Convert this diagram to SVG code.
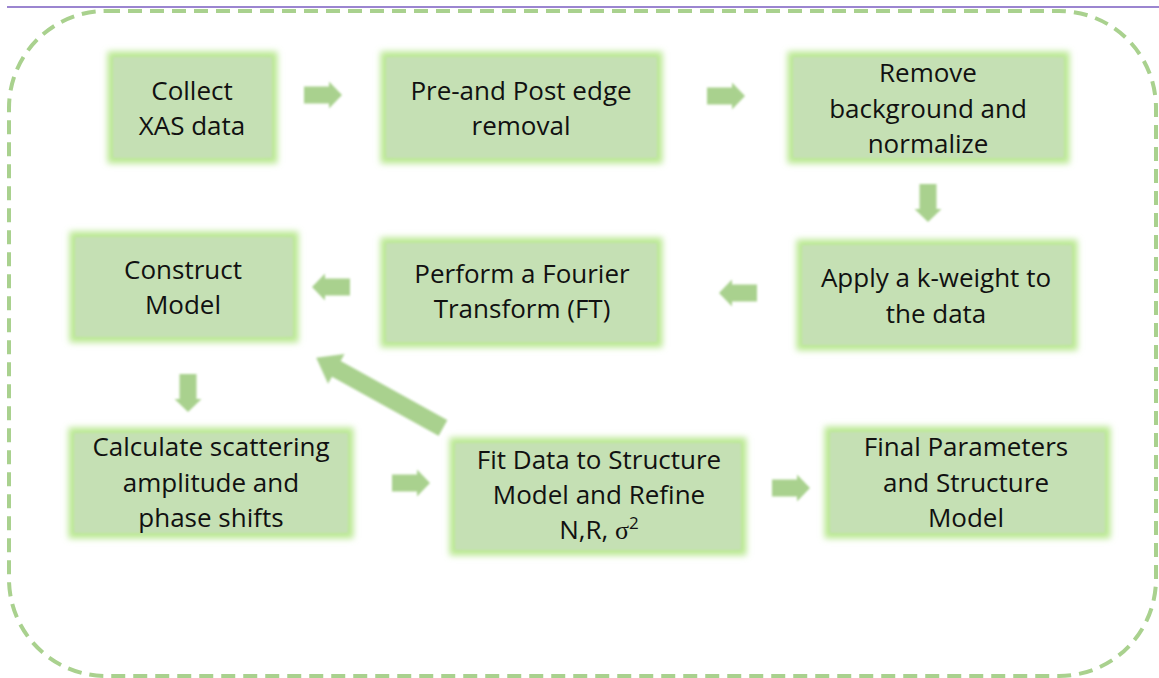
<svg xmlns="http://www.w3.org/2000/svg" width="1159" height="678" viewBox="0 0 1159 678">
  <defs>
    <style>
      .glow { fill: none; stroke: #b9e891; stroke-width: 11; filter: url(#halo); }
      .box { fill: #c5e0b4; filter: url(#soft); }
      .lbl { font-family: "Open Sans", "Liberation Sans", sans-serif; font-size: 26px; fill: #111111; text-anchor: middle; }
      .arrow { fill: #a9d18e; filter: url(#edge); }
    </style>
    <filter id="halo" x="-15%" y="-25%" width="130%" height="150%">
      <feGaussianBlur stdDeviation="3.2"/>
    </filter>
    <filter id="soft" x="-5%" y="-10%" width="110%" height="120%">
      <feGaussianBlur stdDeviation="1"/>
    </filter>
    <filter id="edge" x="-20%" y="-20%" width="140%" height="140%">
      <feGaussianBlur stdDeviation="0.8"/>
    </filter>
    <!-- block arrow pointing right, tail at origin -->
    <path id="blk" d="M0,-8.5 H25 V-13.5 L38,0 L25,13.5 V8.5 H0 Z"/>
  </defs>

  <!-- header rule -->
  <line x1="7" y1="7" x2="1159" y2="7" stroke="#7a5cc0" stroke-width="1.5"/>

  <!-- dashed frame -->
  <rect x="9" y="11" width="1147" height="665" rx="97" ry="97" fill="none" stroke="#a9d18e" stroke-width="4" stroke-dasharray="14 8"/>

  <g id="n1">
    <rect class="glow" x="113" y="57" width="159" height="101"/>
    <rect class="box" x="113" y="57" width="159" height="101"/>
    <text class="lbl" x="192" y="100">Collect</text>
    <text class="lbl" x="192" y="135">XAS data</text>
  </g>
  <g id="n2">
    <rect class="glow" x="386" y="57" width="271" height="101"/>
    <rect class="box" x="386" y="57" width="271" height="101"/>
    <text class="lbl" x="521" y="100">Pre-and Post edge</text>
    <text class="lbl" x="521" y="135">removal</text>
  </g>
  <g id="n3">
    <rect class="glow" x="793" y="57" width="271" height="101"/>
    <rect class="box" x="793" y="57" width="271" height="101"/>
    <text class="lbl" x="928" y="82">Remove</text>
    <text class="lbl" x="928" y="118">background and</text>
    <text class="lbl" x="928" y="153">normalize</text>
  </g>
  <g id="n4">
    <rect class="glow" x="802" y="245" width="270" height="100"/>
    <rect class="box" x="802" y="245" width="270" height="100"/>
    <text class="lbl" x="936" y="287">Apply a k-weight to</text>
    <text class="lbl" x="936" y="323">the data</text>
  </g>
  <g id="n5">
    <rect class="glow" x="386" y="243" width="271" height="99"/>
    <rect class="box" x="386" y="243" width="271" height="99"/>
    <text class="lbl" x="522" y="283">Perform a Fourier</text>
    <text class="lbl" x="522" y="318">Transform (FT)</text>
  </g>
  <g id="n6">
    <rect class="glow" x="75" y="237" width="218" height="100"/>
    <rect class="box" x="75" y="237" width="218" height="100"/>
    <text class="lbl" x="183" y="279">Construct</text>
    <text class="lbl" x="183" y="314">Model</text>
  </g>
  <g id="n7">
    <rect class="glow" x="74" y="433" width="274" height="100"/>
    <rect class="box" x="74" y="433" width="274" height="100"/>
    <text class="lbl" x="211" y="456">Calculate scattering</text>
    <text class="lbl" x="211" y="492">amplitude and</text>
    <text class="lbl" x="211" y="527">phase shifts</text>
  </g>
  <g id="n8">
    <rect class="glow" x="455" y="443" width="286" height="107"/>
    <rect class="box" x="455" y="443" width="286" height="107"/>
    <text class="lbl" x="599" y="469">Fit Data to Structure</text>
    <text class="lbl" x="599" y="504">Model and Refine</text>
    <text class="lbl" x="599" y="539">N,R, <tspan font-family="Liberation Serif, serif">σ</tspan><tspan font-size="17" dy="-10">2</tspan></text>
  </g>
  <g id="n9">
    <rect class="glow" x="830" y="432" width="275" height="101"/>
    <rect class="box" x="830" y="432" width="275" height="101"/>
    <text class="lbl" x="966" y="456">Final Parameters</text>
    <text class="lbl" x="966" y="492">and Structure</text>
    <text class="lbl" x="966" y="527">Model</text>
  </g>

  <g id="connectors">
    <use href="#blk" class="arrow" transform="translate(304,95)"/>
    <use href="#blk" class="arrow" transform="translate(707,96)"/>
    <use href="#blk" class="arrow" transform="translate(928,184) rotate(90)"/>
    <use href="#blk" class="arrow" transform="translate(757,293) rotate(180)"/>
    <use href="#blk" class="arrow" transform="translate(350,287) rotate(180)"/>
    <use href="#blk" class="arrow" transform="translate(188,374) rotate(90)"/>
    <use href="#blk" class="arrow" transform="translate(392,483)"/>
    <use href="#blk" class="arrow" transform="translate(772,488)"/>
    <path class="arrow" d="M0,-9 H122 V-17 L145,0 L122,17 V9 H0 Z" transform="translate(443,428) rotate(209)"/>
  </g>
</svg>
